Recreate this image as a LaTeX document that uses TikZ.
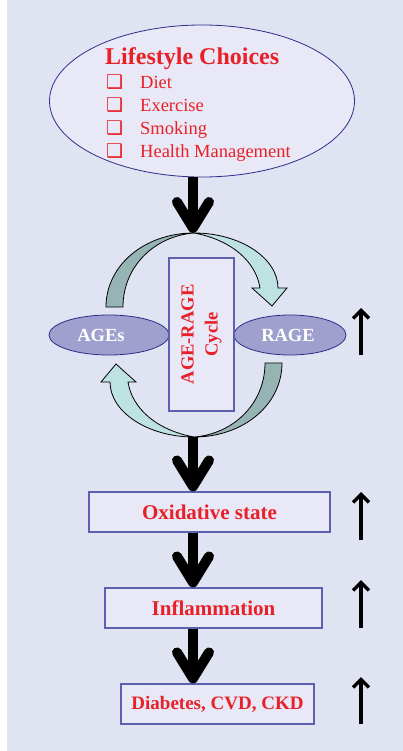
\documentclass[tikz,border=0pt]{standalone}
\usepackage{fontspec}
\setmainfont{Liberation Serif}
\newfontfamily\symfont{DejaVu Sans}
\usepackage{xcolor}
\usetikzlibrary{arrows.meta,positioning,shapes.geometric}

\definecolor{bgblue}{RGB}{224,227,242}
\definecolor{boxfill}{RGB}{232,232,246}
\definecolor{boxline}{RGB}{95,95,175}
\definecolor{navy}{RGB}{45,45,140}
\definecolor{txtred}{RGB}{232,32,40}
\definecolor{agefill}{RGB}{160,160,206}
\definecolor{darkteal}{RGB}{150,180,180}
\definecolor{lightteal}{RGB}{190,225,226}

\newcommand{\chk}{{\symfont\fontsize{19}{19}\selectfont\char"2751}}

\begin{document}
\begin{tikzpicture}[
  x=1pt, y=-1pt,
  block/.style={rectangle, draw=boxline, line width=1.2pt, fill=boxfill, minimum height=40pt, text=txtred, font=\bfseries\fontsize{21}{24}\selectfont},
  blob/.style={ellipse, draw=navy, line width=0.8pt, fill=agefill, minimum height=40pt, inner sep=0pt, text=white, font=\bfseries\fontsize{18.5}{20}\selectfont},
  item/.style={anchor=base west, inner sep=0pt, text=txtred, font=\fontsize{18.5}{22}\selectfont},
  bigline/.style={line width=10pt, -{Straight Barb[length=26pt, width=32pt, round]}},
  upline/.style={line width=3.5pt, -{Straight Barb[length=8pt, width=16pt]}},
  band/.style={draw=black, line width=0.8pt}
]
\useasboundingbox (0,0) rectangle (403,751);
\fill[bgblue] (7,0) rectangle (403,751);

% lifestyle part
\node[ellipse, draw=navy, line width=0.8pt, fill=boxfill, minimum width=305pt, minimum height=152pt, inner sep=0pt] (life) at (202,101) {};
\node[anchor=base west, inner sep=0pt, text=txtred, font=\bfseries\fontsize{24}{28}\selectfont] (title) at (105,65) {Lifestyle Choices};
\foreach \txt [count=\i] in {Diet, Exercise, Smoking, Health Management}
  \node[item] (item\i) at (106, 66.3+22.7*\i) {\makebox[34pt][l]{\chk}\txt};

% the cycle
\foreach \rot in {0,180}{
  \begin{scope}[rotate around={\rot:(194,335)}]
    \filldraw[band, fill=darkteal] (106,307) .. controls (106,265) and (145,233) .. (194,233)
      .. controls (155,236) and (123,266) .. (123,307) -- cycle;
    \filldraw[band, fill=lightteal] (194,233) .. controls (240,233) and (278,258) .. (278,288)
      -- (287,288) -- (272,306) -- (252,288) -- (260,288)
      .. controls (256,262) and (232,240) .. (194,233) -- cycle;
  \end{scope}
}
\coordinate (ctop) at (193,233);
\coordinate (cbot) at (193,437);

\node[blob, minimum width=120pt] (ages) at (109,335) {AGEs\hspace*{16pt}};
\node[blob, minimum width=112pt] (rage) at (290,335) {RAGE\hspace*{4pt}};
\node[rectangle, draw=boxline, line width=1.2pt, fill=boxfill, rotate=90, minimum width=153pt, minimum height=65pt, align=center, text=txtred, font=\bfseries\fontsize{18.5}{24}\selectfont] (cycle) at (201.5,334.5) {AGE-RAGE\\Cycle};

% outcome boxes
\node[block, minimum width=241pt] (oxid) at (209.5,512) {Oxidative state};
\node[block, minimum width=217pt] (infl) at (213.5,608) {Inflammation};
\node[block, minimum width=193pt, font=\bfseries\fontsize{19}{22}\selectfont] (dis) at (217.5,704) {Diabetes, CVD, CKD};

\draw[bigline] (life.south -| ctop) -- (ctop);
\draw[bigline] (cbot) -- (oxid.north -| cbot);
\draw[bigline] (oxid.south -| cbot) -- (infl.north -| cbot);
\draw[bigline] (infl.south -| cbot) -- (dis.north -| cbot);

% increase marks
\foreach \ya/\yb in {355/308, 540/492, 628/580, 724/677}
  \draw[upline] (361,\ya) -- (361,\yb);
\end{tikzpicture}
\end{document}
